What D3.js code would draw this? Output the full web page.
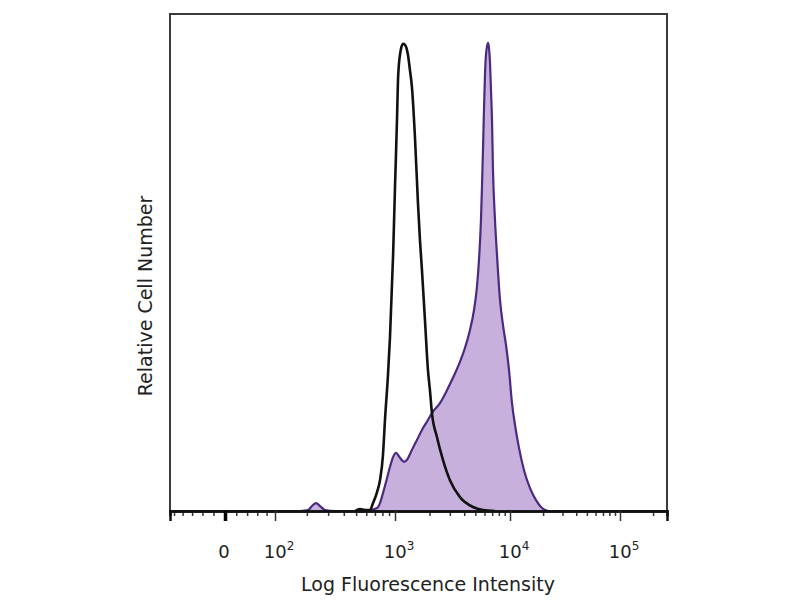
<!DOCTYPE html>
<html>
<head>
<meta charset="utf-8">
<script src="https://cdn.jsdelivr.net/npm/d3@7"></script>
<style>
  html, body { margin: 0; padding: 0; background: #fff; }
  svg { display: block; }
  text { font-family: "DejaVu Sans", sans-serif; fill: #222; }
</style>
</head>
<body>
<svg id="chart" width="800" height="600"></svg>
<script>
// ---- data ----
// Unstained / isotype control histogram (black outline)
const controlIntensity = [490, 536, 586, 641, 677, 727, 766, 808, 837, 883, 915, 968, 1000, 1041, 1062, 1105, 1174, 1222, 1297, 1350, 1405, 1492, 1585, 1650, 1717, 1824, 1936, 2015, 2098, 2318, 2615, 3008, 3674, 4767, 5824, 7406];
const controlCount     = [0, 0.4, 0.2, 0.2, 1.6, 3.8, 6.2, 11.3, 18.3, 27.4, 35, 51.9, 65.2, 78.7, 86.7, 91.8, 94, 93.8, 91.8, 88.7, 85.3, 75.3, 62, 54.5, 48.5, 38.4, 28.4, 24.3, 19.7, 14.9, 10.3, 6.2, 2.8, 0.8, 0.2, 0];
// Stained histogram (filled purple)
const stainedIntensity = [174, 205, 221, 239, 258, 283, 342, 536, 641, 727, 766, 808, 868, 915, 968, 1020, 1105, 1197, 1272, 1405, 1554, 1717, 1936, 2098, 2462, 2833, 3194, 3674, 4061, 4489, 4864, 5164, 5376, 5596, 5708, 5824, 5941, 6062, 6184, 6437, 6568, 6701, 6836, 6975, 7116, 7406, 7709, 8185, 8693, 9231, 9802, 10428, 11104, 12070, 13408, 15199, 17235, 19539, 22155];
const stainedCount     = [0, 0.2, 1, 1.6, 1, 0.2, 0, 0, 0.2, 0.6, 1.6, 3.6, 6.6, 8.9, 10.9, 11.7, 10.7, 9.9, 10.3, 12.3, 14.3, 16.3, 18.3, 19.7, 21.7, 24.3, 26.8, 30, 32.8, 36.4, 40.4, 45.1, 50.5, 58.6, 65.2, 72.6, 80.7, 87.7, 91.8, 94.2, 93.2, 90.3, 84.7, 78.7, 68.6, 58.6, 51.5, 42.5, 37.4, 33.4, 28.4, 21.7, 17.3, 12.7, 8.2, 4.6, 2.2, 0.6, 0];
// axis ticks
const majorTicks = [0, 100, 1000, 10000, 100000];
const tickBase   = ["0", "10", "10", "10", "10"];
const tickExp    = ["", "2", "3", "4", "5"];
const minorTicks = [-100, -80, -60, -40, -20, 20, 40, 60, 80, 200, 300, 400, 500, 600, 700, 800, 900, 2000, 3000, 4000, 5000, 6000, 7000, 8000, 9000, 20000, 30000, 40000, 50000, 60000, 70000, 80000, 90000, 200000];
const domainEnds = [-110, 268000];
const xTitle = "Log Fluorescence Intensity";
const yTitle = "Relative Cell Number";

// ---- layout ----
const L = 170, R = 667, T = 14, B = 511;
const svg = d3.select("#chart");

// biexponential-like (arcsinh) transform, then piecewise scale
const biex = v => Math.asinh(v / 100) / Math.LN10;
const xs = d3.scaleLinear()
  .domain([domainEnds[0], 0, 100, 1000, 10000, 100000, domainEnds[1]].map(biex))
  .range([L, 225, 275, 395, 510, 620, R]);
const x = v => xs(biex(v));
const y = d3.scaleLinear().domain([0, 100]).range([B, T]);

const control = controlIntensity.map((v, i) => [v, controlCount[i]]);
const stained = stainedIntensity.map((v, i) => [v, stainedCount[i]]);

// frame
svg.append("rect")
  .attr("x", L).attr("y", T).attr("width", R - L).attr("height", B - T)
  .attr("fill", "none").attr("stroke", "#3a3a3a").attr("stroke-width", 2);

const clip = svg.append("clipPath").attr("id", "clip")
  .append("rect").attr("x", L).attr("y", T).attr("width", R - L).attr("height", B - T);

const g = svg.append("g").attr("clip-path", "url(#clip)");

const area = d3.area().x(d => x(d[0])).y0(y(0)).y1(d => y(d[1])).curve(d3.curveMonotoneX);
const line = d3.line().x(d => x(d[0])).y(d => y(d[1])).curve(d3.curveMonotoneX);

g.append("path").datum(stained).attr("d", area).attr("fill", "#c7b0db");
g.append("path").datum(stained).attr("d", line)
  .attr("fill", "none").attr("stroke", "#4b2a80").attr("stroke-width", 2.2).attr("stroke-linejoin", "round");
g.append("path").datum(control).attr("d", line)
  .attr("fill", "none").attr("stroke", "#111").attr("stroke-width", 2.6).attr("stroke-linejoin", "round");

// axis
const axMinor = d3.axisBottom(xs).tickValues(minorTicks.map(biex)).tickSize(5).tickFormat("");
const axMajor = d3.axisBottom(xs).tickValues(majorTicks.map(biex)).tickSize(10).tickFormat("");
const gMinor = svg.append("g").attr("transform", `translate(0,${B})`).call(axMinor);
const gMajor = svg.append("g").attr("transform", `translate(0,${B})`).call(axMajor);
[gMinor, gMajor].forEach(a => {
  a.select(".domain").attr("stroke", "#111").attr("stroke-width", 2.5);
  a.selectAll(".tick line").attr("stroke", "#333").attr("stroke-width", 1.5);
});
gMajor.selectAll(".tick line").filter((d, i) => i === 0).attr("stroke", "#000").attr("stroke-width", 3.5);

// tick labels
const lab = svg.append("g");
majorTicks.forEach((v, i) => {
  const t = lab.append("text")
    .attr("x", x(v) + (tickExp[i] ? 4 : -1))
    .attr("y", 558)
    .attr("text-anchor", "middle")
    .attr("font-size", 18);
  t.append("tspan").text(tickBase[i]);
  if (tickExp[i]) t.append("tspan").attr("dy", -8).attr("font-size", 12).text(tickExp[i]);
});

// titles
svg.append("text").attr("x", 428).attr("y", 591).attr("text-anchor", "middle")
  .attr("font-size", 19).text(xTitle);
svg.append("text").attr("transform", "translate(152,296) rotate(-90)")
  .attr("text-anchor", "middle").attr("font-size", 19).text(yTitle);
</script>
</body>
</html>
